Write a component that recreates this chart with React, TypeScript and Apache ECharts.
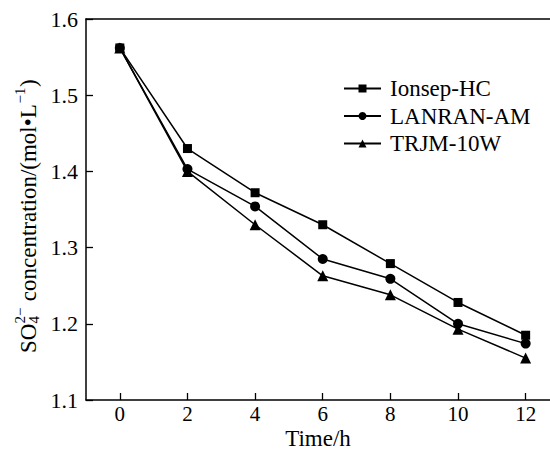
import React, { useEffect, useRef } from "react";
import * as echarts from "echarts";

const timeH = [0, 2, 4, 6, 8, 10, 12];
const ionsepHC = [1.562, 1.43, 1.372, 1.33, 1.279, 1.228, 1.185];
const lanranAM = [1.562, 1.403, 1.354, 1.285, 1.259, 1.2, 1.174];
const trjm10W = [1.562, 1.4, 1.33, 1.263, 1.238, 1.193, 1.155];
const seriesNames = ["Ionsep-HC", "LANRAN-AM", "TRJM-10W"];
const xTicks = [0, 2, 4, 6, 8, 10, 12];

const FONT = '"Liberation Serif", "Times New Roman", serif';

export default function App() {
  const ref = useRef<HTMLDivElement>(null);
  useEffect(() => {
    document.body.style.margin = "0";
    if (!ref.current) return;
    const chart = echarts.init(ref.current, null, { renderer: "svg" });
    const pair = (ys: number[]) => timeH.map((t, i) => [t, ys[i]]);
    const titleFont = `23px ${FONT}`;
    const smallFont = `15px ${FONT}`;
    chart.setOption({
      animation: false,
      backgroundColor: "#fff",
      grid: { left: 86, right: 0, top: 19, bottom: 52, containLabel: false, outerBoundsMode: "none" },
      legend: {
        data: seriesNames,
        orient: "vertical",
        left: 343,
        top: 77,
        padding: 0,
        itemWidth: 37,
        itemHeight: 10,
        itemGap: 4.5,
        textStyle: { fontSize: 23, fontFamily: FONT, color: "#000", lineHeight: 22, padding: [0, 0, 0, 4] },
      },
      xAxis: [
        {
          type: "value",
          min: -1,
          max: 12.72,
          axisLine: { show: true, onZero: false, lineStyle: { color: "#000", width: 1.5 } },
          axisTick: {
            show: true,
            inside: true,
            length: 7,
            customValues: xTicks,
            lineStyle: { color: "#000", width: 1.3 },
          },
          axisLabel: {
            customValues: xTicks,
            margin: 3,
            fontSize: 21,
            fontFamily: FONT,
            color: "#000",
            hideOverlap: false,
          },
          splitLine: { show: false },
          name: "Time/h",
          nameLocation: "middle",
          nameGap: 27,
          nameMoveOverlap: false,
          nameTextStyle: { fontSize: 23, fontFamily: FONT, color: "#000", lineHeight: 22 },
        },
        {
          type: "value",
          position: "top",
          min: -1,
          max: 12.72,
          axisLine: { show: true, onZero: false, lineStyle: { color: "#000", width: 1.5 } },
          axisTick: { show: false },
          axisLabel: { show: false },
          splitLine: { show: false },
        },
      ],
      yAxis: {
        type: "value",
        min: 1.1,
        max: 1.6,
        splitNumber: 5,
        axisLine: { show: true, onZero: false, lineStyle: { color: "#000", width: 1.5 } },
        axisTick: { show: true, inside: true, length: 7, lineStyle: { color: "#000", width: 1.3 } },
        axisLabel: {
          margin: 8,
          fontSize: 22,
          fontFamily: FONT,
          color: "#000",
          formatter: (v: number) => v.toFixed(1),
        },
        splitLine: { show: false },
      },
      graphic: [
        {
          type: "group",
          x: 28,
          y: 353,
          rotation: Math.PI / 2,
          children: [
            { type: "text", x: 0, y: 0, style: { text: "SO", font: titleFont, fill: "#000", align: "left", verticalAlign: "middle" } },
            { type: "text", x: 29.5, y: 6, style: { text: "4", font: smallFont, fill: "#000", align: "left", verticalAlign: "middle" } },
            { type: "text", x: 29.5, y: -8, style: { text: "2−", font: smallFont, fill: "#000", align: "left", verticalAlign: "middle" } },
            { type: "text", x: 46, y: 0, style: { text: " concentration/(mol•L", font: titleFont, fill: "#000", align: "left", verticalAlign: "middle" } },
            { type: "text", x: 249.5, y: -8, style: { text: "−1", font: smallFont, fill: "#000", align: "left", verticalAlign: "middle" } },
            { type: "text", x: 266, y: 0, style: { text: ")", font: titleFont, fill: "#000", align: "left", verticalAlign: "middle" } },
          ],
        },
      ],
      series: [
        {
          name: seriesNames[0],
          type: "line",
          data: pair(ionsepHC),
          symbol: "rect",
          symbolSize: 9,
          itemStyle: { color: "#000" },
          lineStyle: { color: "#000", width: 1.5 },
        },
        {
          name: seriesNames[1],
          type: "line",
          data: pair(lanranAM),
          symbol: "circle",
          symbolSize: 10,
          itemStyle: { color: "#000" },
          lineStyle: { color: "#000", width: 1.5 },
        },
        {
          name: seriesNames[2],
          type: "line",
          data: pair(trjm10W),
          symbol: "triangle",
          symbolSize: 11,
          itemStyle: { color: "#000" },
          lineStyle: { color: "#000", width: 1.5 },
        },
      ],
    });
    return () => chart.dispose();
  }, []);
  return <div ref={ref} style={{ width: 550, height: 452 }} />;
}
